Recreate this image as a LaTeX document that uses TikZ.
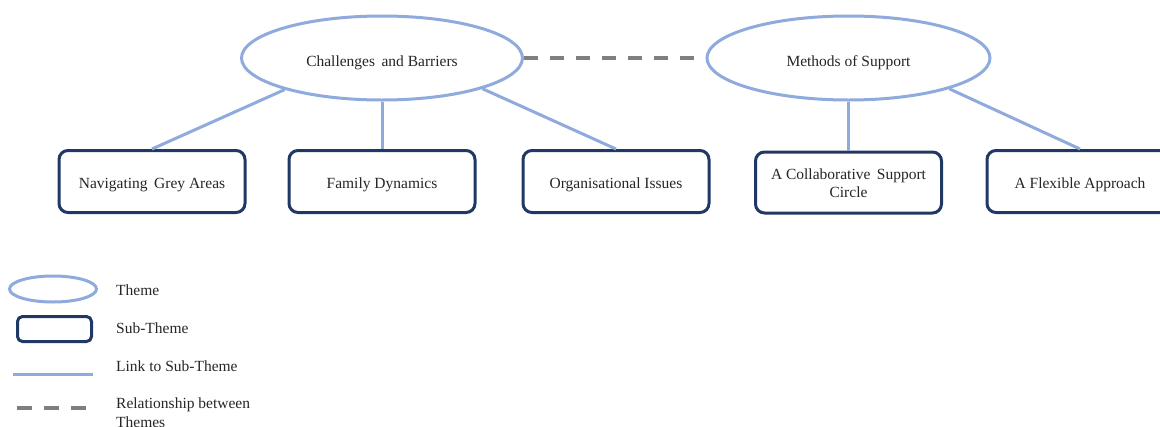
\documentclass[tikz,border=0pt]{standalone}
\usepackage{fontspec}
\setmainfont{Liberation Serif}
\usetikzlibrary{shapes.geometric}
\definecolor{themeblue}{HTML}{8FAADC}
\definecolor{subnavy}{HTML}{1F3864}
\definecolor{relgrey}{HTML}{7F7F7F}
\definecolor{txt}{HTML}{262626}
% place a line of text with its baseline #1 below the node centre
\newcommand{\basedrop}[2]{\raisebox{-#1}[0pt][0pt]{#2}}
\tikzset{
  themenode/.style={ellipse, draw=themeblue, line width=3pt, fill=white,
    minimum width=281pt, minimum height=84pt, inner sep=0pt,
    font=\fontsize{15.5}{17.4}\selectfont, text=txt},
  subnode/.style={rectangle, rounded corners=9pt, draw=subnavy, line width=3pt,
    fill=white, minimum width=186pt, minimum height=62pt, inner sep=0pt,
    align=center, font=\fontsize{15.5}{17.4}\selectfont, text=txt},
  sublink/.style={draw=themeblue, line width=3pt},
  rellink/.style={draw=relgrey, line width=4pt, dash pattern=on 14pt off 12pt},
  legtext/.style={anchor=base west, inner sep=0pt, align=left,
    font=\fontsize{15.5}{19}\selectfont, text=txt}
}
\begin{document}
\begin{tikzpicture}[x=1pt, y=-1pt]
\useasboundingbox (0,0) rectangle (1160,426);

\coordinate (cbc) at (382,58);
\coordinate (msc) at (848.5,58);

% themes
\node[themenode] (cb) at (cbc) {\basedrop{8pt}{Challenges\ \,and Barriers}};
\node[themenode, minimum width=283pt] (ms) at (msc) {\basedrop{8pt}{Methods of Support}};

% sub-themes
\node[subnode] (nav) at (152,181.5) {\basedrop{7pt}{Navigating\ \,Grey Areas}};
\node[subnode] (fam) at (382,181.5) {\basedrop{7pt}{Family Dynamics}};
\node[subnode] (org) at (616,181.5) {\basedrop{7pt}{Organisational Issues}};
\node[subnode, minimum height=61pt] (col) at (848.5,182.5)
  {\raisebox{3.2pt}[0pt][0pt]{\begin{tabular}[t]{@{}c@{}}A Collaborative\ \,Support\\[0.6pt]Circle\end{tabular}}};
\node[subnode] (flx) at (1080,181.5) {\basedrop{7pt}{A Flexible Approach}};

% links from themes to sub-themes
\draw[sublink] (cb.198) -- (nav.north);
\draw[sublink] (cb.south) -- (fam.north);
\draw[sublink] (cb.343) -- (org.north);
\draw[sublink] (ms.south) -- (col.north);
\draw[sublink] (ms.343) -- (flx.north);

% relationship between the themes
\draw[rellink] (cb.east) -- (ms.west);

% legend
\node[ellipse, draw=themeblue, line width=3pt, minimum width=87pt,
  minimum height=26pt, inner sep=0pt] (lgth) at (53,289) {};
\node[rectangle, rounded corners=5pt, draw=subnavy, line width=3pt,
  minimum width=74pt, minimum height=25pt, inner sep=0pt] (lgst) at (54.5,329) {};
\coordinate (lkA) at (13,374);
\coordinate (lkB) at (93,374);
\draw[sublink] (lkA) -- (lkB);
\coordinate (rlA) at (17,408);
\coordinate (rlB) at (89,408);
\draw[rellink, dash pattern=on 15pt off 12pt] (rlA) -- (rlB);

\node[legtext] (lt1) at (116,295) {Theme};
\node[legtext] (lt2) at (116,333.3) {Sub-Theme};
\node[legtext] (lt3) at (116,371) {Link to Sub-Theme};
\node[legtext] (lt4) at (116,408.3) {\begin{tabular}[t]{@{}l@{}}Relationship between\\Themes\end{tabular}};
\end{tikzpicture}
\end{document}
